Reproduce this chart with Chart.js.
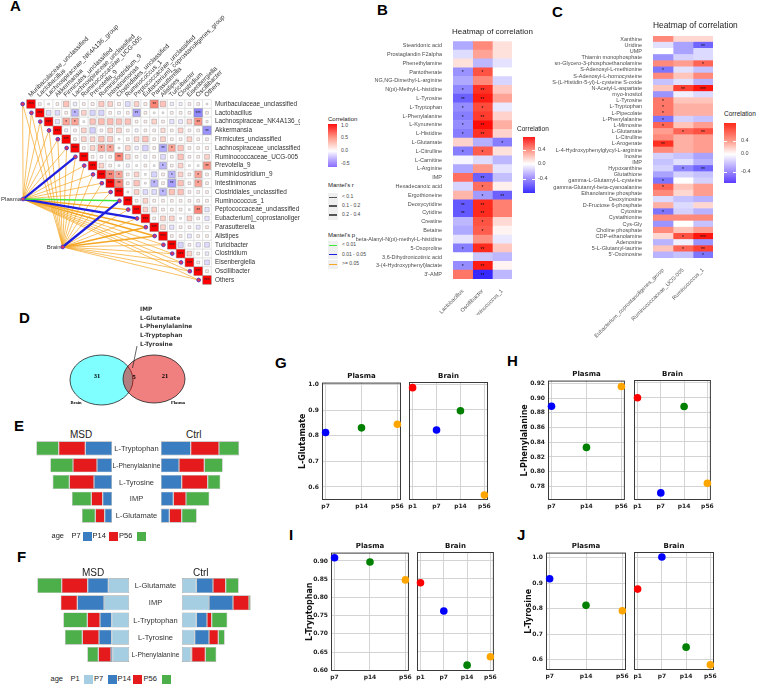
<!DOCTYPE html>
<html>
<head>
<meta charset="utf-8">
<script src="https://cdn.jsdelivr.net/npm/chart.js@4.4.1/dist/chart.umd.min.js"></script>
<style>
  body { margin: 0; background: #fff; }
  #fig { position: relative; width: 760px; height: 684px; overflow: hidden; font-family: "Liberation Sans", Arial, sans-serif; color: #222; }
  #fig canvas { position: absolute; }
  .t { position: absolute; white-space: nowrap; line-height: 1; }
  .bx { position: absolute; }
</style>
</head>
<body>
<div id="fig"></div>
<script>
// ---------------- data ----------------
// A: taxa and correlation (upper triangle, row i holds columns i+1..20)
const taxa = ['Muribaculaceae_unclassified', 'Lactobacillus', 'Lachnospiraceae_NK4A136_group', 'Akkermansia',
  'Firmicutes_unclassified', 'Lachnospiraceae_unclassified', 'Ruminococcaceae_UCG-005', 'Prevotella_9',
  'Ruminiclostridium_9', 'Intestinimonas', 'Clostridiales_unclassified', 'Ruminococcus_1',
  'Peptococcaceae_unclassified', 'Eubacterium]_coprostanoligenes_group', 'Parasutterella', 'Alistipes',
  'Turicibacter', 'Clostridium', 'Eisenbergiella', 'Oscillibacter', 'Others'];
const corrUpper = [
  [0.05, 0.02, 0.05, 0.2, -0.08, 0.05, 0.06, 0.18, 0.15, 0.06, -0.15, 0.15, 0.06, 0.4, 0.2, -0.07, -0.06, 0.05, 0.05, 0.02],
  [-0.15, -0.15, 0.05, -0.3, 0.15, -0.18, -0.18, 0.05, -0.05, 0.05, -0.35, 0.05, 0.02, 0.02, 0.05, 0.05, 0.05, -0.5, 0.05],
  [-0.12, 0.3, 0.3, 0.02, 0.2, 0.22, 0.22, 0.2, 0.2, 0.05, 0.05, 0.15, 0.05, -0.12, -0.1, 0.15, 0.35, 0.03],
  [-0.06, 0.05, 0.15, -0.2, 0.05, 0.15, 0.15, 0.05, -0.06, 0.05, 0.05, 0.12, 0.05, 0.15, 0.05, 0.05, -0.45],
  [0.05, 0.15, 0.15, 0.2, 0.18, 0.02, 0.05, 0.15, 0.2, 0.05, 0.15, 0.05, 0.05, 0.15, 0.05, 0.05],
  [0.05, 0.15, 0.3, 0.3, 0.02, 0.15, -0.08, -0.2, 0.05, -0.35, 0.3, 0.2, 0.05, 0.05, 0.06],
  [0.05, 0.05, 0.05, 0.4, 0.15, 0.05, -0.06, 0.05, -0.15, 0.05, 0.2, 0.05, 0.05, 0.15],
  [0.15, 0.05, 0.02, -0.06, 0.02, 0.05, 0.02, -0.3, 0.05, 0.15, 0.02, 0.02, 0.35],
  [0.4, 0.3, 0.05, 0.15, 0.02, -0.18, 0.05, -0.3, 0.15, 0.05, 0.3, 0.05],
  [0.4, 0.05, 0.2, 0.02, -0.3, 0.05, -0.4, 0.2, 0.05, 0.3, 0.05],
  [0.02, 0.15, -0.15, -0.15, -0.3, 0.2, 0.2, 0.05, 0.05, 0.05],
  [0.05, 0.15, 0.05, 0.05, 0.05, 0.05, 0.05, 0.05, 0.05],
  [0.15, 0.15, 0.05, 0.05, 0.05, 0.02, 0.4, -0.12],
  [0.05, 0.15, 0.15, 0.02, 0.15, 0.05, -0.12],
  [0.15, -0.12, 0.05, 0.05, -0.1, 0.05],
  [0.05, 0.05, -0.1, 0.05, 0.05],
  [-0.18, 0.05, -0.12, -0.15],
  [0.15, 0.05, -0.08],
  [0.05, -0.15],
  [0.05],
  []
];
// Mantel tests (per taxon)
const plasmaMantelR = [0.06, 0.05, 0.07, 0.05, 0.06, 0.08, 0.25, 0.06, 0.07, 0.06, 0.08, 0.15, 0.14, 0.25, 0.13, 0.12, 0.08, 0.09, 0.07, 0.08, 0.06];
const plasmaMantelP = [0.4, 0.5, 0.3, 0.6, 0.4, 0.3, 0.03, 0.3, 0.2, 0.4, 0.2, 0.008, 0.08, 0.02, 0.1, 0.12, 0.3, 0.2, 0.3, 0.2, 0.4];
const brainMantelR = [0.05, 0.06, 0.05, 0.06, 0.05, 0.07, 0.06, 0.05, 0.07, 0.06, 0.08, 0.22, 0.07, 0.09, 0.12, 0.11, 0.08, 0.06, 0.09, 0.07, 0.06];
const brainMantelP = [0.5, 0.4, 0.5, 0.4, 0.5, 0.3, 0.4, 0.5, 0.3, 0.4, 0.3, 0.04, 0.3, 0.2, 0.1, 0.12, 0.3, 0.4, 0.2, 0.3, 0.4];

// B: plasma heatmap
const bMetab = ['Stearidonic acid', 'Prostaglandin F2alpha', 'Phenethylamine', 'Pantothenate', 'NG,NG-Dimethyl-L-arginine',
  'N(pi)-Methyl-L-histidine', 'L-Tyrosine', 'L-Tryptophan', 'L-Phenylalanine', 'L-Kynurenine', 'L-Histidine',
  'L-Glutamate', 'L-Citrulline', 'L-Carnitine', 'L-Arginine', 'IMP', 'Hexadecanoic acid', 'Ergothioneine',
  'Deoxycytidine', 'Cytidine', 'Creatine', 'Betaine', 'beta-Alanyl-N(pi)-methyl-L-histidine', '5-Oxoproline',
  '3,6-Dihydronicotinic acid', '3-(4-Hydroxyphenyl)lactate', "3'-AMP"];
const bTaxa = ['Lactobacillus', 'Oscillibacter', 'Ruminococcus_1'];
const bLacto = [-0.30, -0.12, 0.08, -0.38, -0.30, -0.42, -0.55, -0.40, -0.45, -0.40, -0.45, 0.12, -0.45, -0.03, -0.30, 0.40, -0.15, 0.20, -0.58, -0.58, -0.25, -0.30, -0.10, -0.45, 0.00, -0.40, 0.38];
const bOsc = [0.32, 0.25, -0.25, 0.48, 0.32, 0.58, 0.65, 0.50, 0.55, 0.70, 0.58, -0.28, 0.45, -0.12, 0.28, -0.55, 0.40, -0.35, 0.60, 0.60, 0.48, 0.45, 0.30, 0.60, -0.20, 0.65, -0.80];
const bRum = [0.08, 0.08, -0.10, 0.00, -0.15, 0.15, 0.25, -0.08, 0.12, 0.22, 0.12, -0.45, 0.08, -0.25, -0.10, -0.22, 0.04, -0.55, 0.35, 0.35, 0.10, 0.03, -0.08, 0.15, -0.25, 0.03, -0.25];
const bLactoSig = ['', '', '', '*', '', '*', '**', '*', '*', '*', '*', '', '*', '', '', '', '', '', '**', '**', '', '', '', '*', '', '*', ''];
const bOscSig = ['', '', '', '*', '', '**', '**', '*', '**', '**', '**', '', '*', '', '', '**', '*', '*', '**', '**', '*', '*', '', '**', '', '**', '**'];
const bRumSig = ['', '', '', '', '', '', '', '', '', '', '', '*', '', '', '', '', '', '**', '', '', '', '', '', '', '', '', ''];

// C: brain heatmap
const cMetab = ['Xanthine', 'Uridine', 'UMP', 'Thiamin monophosphate', 'sn-Glycero-3-phosphoethanolamine',
  'S-Adenosyl-L-methionine', 'S-Adenosyl-L-homocysteine', 'S-(L-Histidin-5-yl)-L-cysteine S-oxide',
  'N-Acetyl-L-aspartate', 'myo-Inositol', 'L-Tyrosine', 'L-Tryptophan', 'L-Pipecolate', 'L-Phenylalanine',
  'L-Mimosine', 'L-Glutamate', 'L-Citrulline', 'L-Arogenate', 'L-4-Hydroxyphenylglycyl-L-arginine', 'Inosine',
  'IMP', 'Hypoxanthine', 'Glutathione', 'gamma-L-Glutamyl-L-cysteine', 'gamma-Glutamyl-beta-cyanoalanine',
  'Ethanolamine phosphate', 'Deoxyinosine', 'D-Fructose 6-phosphate', 'Cytosine', 'Cystathionine', 'Cys-Gly',
  'Choline phosphate', 'CDP-ethanolamine', 'Adenosine', '5-L-Glutamyl-taurine', "5'-Oxoinosine"];
const cTaxa = ['Eubacterium_coprostanoligenes_group', 'Ruminococcaceae_UCG-005', 'Ruminococcus_1'];
const cEub = [0.30, -0.10, 0.00, -0.35, 0.30, -0.45, 0.30, -0.20, 0.15, -0.35, 0.35, 0.35, 0.35, -0.45, 0.40, 0.25, 0.30, 0.55, 0.30, -0.15, -0.20, -0.15, -0.30, -0.45, 0.40, 0.30, -0.12, 0.20, -0.45, 0.30, -0.35, 0.30, 0.10, -0.25, 0.15, -0.25];
const cUcg = [0.10, -0.30, -0.30, -0.15, 0.25, -0.10, 0.15, -0.10, 0.50, -0.05, 0.15, 0.20, 0.20, -0.15, 0.15, 0.40, 0.20, 0.20, 0.20, -0.20, -0.10, -0.40, -0.15, 0.00, 0.15, 0.10, -0.20, -0.12, -0.15, 0.30, 0.00, 0.15, 0.45, -0.05, 0.40, -0.20];
const cRum = [0.10, -0.50, -0.12, -0.12, 0.40, -0.20, 0.30, -0.25, 0.62, -0.12, 0.15, 0.20, 0.20, -0.20, 0.25, 0.45, 0.25, 0.25, 0.25, -0.30, -0.25, -0.50, -0.20, -0.15, 0.25, 0.25, -0.25, 0.10, -0.25, 0.30, -0.20, 0.25, 0.62, -0.35, 0.50, -0.45];
const cEubSig = ['', '', '', '', '', '*', '', '', '', '', '*', '*', '*', '*', '*', '', '', '**', '', '', '', '', '', '*', '*', '', '', '', '*', '', '', '', '', '', '', ''];
const cUcgSig = ['', '', '', '', '', '', '', '', '**', '', '', '', '', '', '', '*', '', '', '', '', '', '*', '', '', '', '', '', '', '', '', '', '', '*', '', '*', ''];
const cRumSig = ['', '**', '', '', '*', '', '', '', '***', '', '', '', '', '', '', '**', '', '', '', '', '', '**', '', '', '', '', '', '', '', '', '', '', '***', '', '**', '*'];

// D: Venn
const vennSets = ['Brain', 'Plasma'];
const vennOnly = [31, 21];
const vennShared = 5;
const vennSharedNames = ['IMP', 'L-Glutamate', 'L-Phenylalanine', 'L-Tryptophan', 'L-Tyrosine'];

// E: MSD vs Ctrl
const eMetab = ['L-Tryptophan', 'L-Phenylalanine', 'L-Tyrosine', 'IMP', 'L-Glutamate'];
const eAges = ['P7', 'P14', 'P56'];
const eMsdP7 = [0.80, 0.45, 0.54, 0.28, 0.22];
const eMsdP14 = [0.80, 0.72, 0.74, 0.34, 0.28];
const eMsdP56 = [0.67, 0.68, 0.50, 0.58, 0.40];
const eCtrlP7 = [0.89, 0.54, 0.62, 0.37, 0.25];
const eCtrlP14 = [0.85, 0.76, 0.78, 0.38, 0.37];
const eCtrlP56 = [0.60, 0.55, 0.38, 0.70, 0.45];

// F
const fMetab = ['L-Glutamate', 'IMP', 'L-Tryptophan', 'L-Tyrosine', 'L-Phenylalanine'];
const fAges = ['P1', 'P7', 'P14', 'P56'];
const fMsdP1 = [0.62, 0.75, 0.52, 0.52, 0.49];
const fMsdP7 = [0.62, 0.80, 0.35, 0.38, 0.05];
const fMsdP14 = [0.78, 0.50, 0.38, 0.50, 0.38];
const fMsdP56 = [0.73, 0.00, 0.72, 0.52, 0.33];
const fCtrlP1 = [0.43, 0.81, 0.43, 0.38, 0.26];
const fCtrlP7 = [0.50, 0.72, 0.32, 0.43, 0.03];
const fCtrlP14 = [0.38, 0.48, 0.14, 0.28, 0.41];
const fCtrlP56 = [0.39, 0.05, 0.47, 0.19, 0.33];

// G-J
const plasmaAges = ['p7', 'p14', 'p56'];
const brainAges = ['p1', 'p7', 'p14', 'p56'];
const gPlasma = [0.813, 0.831, 0.845], gBrain = [0.986, 0.821, 0.896, 0.568];
const hPlasma = [0.889, 0.833, 0.916], hBrain = [0.900, 0.771, 0.888, 0.784];
const iPlasma = [0.909, 0.897, 0.848], iBrain = [0.839, 0.762, 0.614, 0.637];
const jPlasma = [0.917, 0.813, 0.792], jBrain = [0.875, 1.000, 0.649, 0.580];
const gTicks = [0.6, 0.7, 0.8, 0.9, 1.0];
const hTicks = [0.78, 0.80, 0.82, 0.84, 0.86, 0.88, 0.90, 0.92];
const iTicks = [0.60, 0.65, 0.70, 0.75, 0.80, 0.85, 0.90];
const jTicks = [0.6, 0.7, 0.8, 0.9, 1.0];

// ---------------- helpers ----------------
Chart.defaults.animation = false;
Chart.defaults.responsive = false;
Chart.defaults.maintainAspectRatio = false;
Chart.defaults.layout.autoPadding = false;
Chart.defaults.font.family = '"Liberation Sans", Arial, sans-serif';
Chart.defaults.plugins.legend.display = false;
Chart.defaults.plugins.tooltip.enabled = false;

const fig = document.getElementById('fig');
const SANS = '"Liberation Sans", Arial, sans-serif';
const DJV = '"DejaVu Sans", sans-serif';

function addCanvas(x, y, w, h) {
  const c = document.createElement('canvas');
  c.width = w; c.height = h;
  c.style.left = x + 'px'; c.style.top = y + 'px';
  c.style.width = w + 'px'; c.style.height = h + 'px';
  fig.appendChild(c);
  return c;
}
// cy = vertical centre of the glyphs
function addText(txt, x, cy, size, css) {
  const d = document.createElement('div');
  d.className = 't';
  d.textContent = txt;
  d.style.left = x + 'px';
  d.style.top = (cy - size * 0.55) + 'px';
  d.style.fontSize = size + 'px';
  if (css) d.style.cssText += css;
  fig.appendChild(d);
  return d;
}
function addBox(x, y, w, h, css) {
  const d = document.createElement('div');
  d.className = 'bx';
  d.style.left = x + 'px'; d.style.top = y + 'px';
  d.style.width = w + 'px'; d.style.height = h + 'px';
  d.style.cssText += css;
  fig.appendChild(d);
  return d;
}
function corrColor(v, lim) {
  const t = Math.min(1, Math.abs(v) / lim);
  if (v >= 0) return 'rgb(255,' + Math.round(255 * Math.pow(1 - t, 1.1)) + ',' + Math.round(255 * Math.pow(1 - t, 1.3)) + ')';
  return 'rgb(' + Math.round(255 - 200 * t) + ',' + Math.round(255 - 215 * t) + ',255)';
}

// ---------------- panel letters ----------------
[['A', 10, 6], ['B', 377, 10], ['C', 552, 12], ['D', 19, 318], ['E', 14, 426], ['F', 17, 557],
 ['G', 275, 363], ['H', 507, 361], ['I', 289, 535], ['J', 517, 535]].forEach(l =>
  addText(l[0], l[1], l[2], 15, 'font-weight:bold;color:#000;'));

// ---------------- A ----------------
(function () {
  const X0 = 31, Y0 = 104, S = 8.8, W = 300, H = 290;
  const plasmaNode = { x: -0.9, y: 10.8 }, brainNode = { x: 3.6, y: 16.25 };
  const cells = [], bg = [], dots = [];
  taxa.forEach((t, i) => {
    bg.push({ x: i, y: i });
    cells.push({ x: i, y: i, v: 1 });
    corrUpper[i].forEach((v, k) => {
      bg.push({ x: i + 1 + k, y: i });
      cells.push({ x: i + 1 + k, y: i, v: v });
    });
    dots.push({ x: i - 0.95, y: i });
  });
  dots.push(plasmaNode, brainNode);
  const pColor = p => p < 0.01 ? '#3ee83a' : (p < 0.05 ? '#1f1fe0' : '#f5a623');
  const rWidth = r => r < 0.1 ? 0.7 : (r < 0.2 ? 1.4 : 2.3);
  const lines = [];
  taxa.forEach((t, i) => {
    lines.push({ data: [plasmaNode, { x: i - 0.95, y: i }], showLine: true, pointRadius: 0,
      borderColor: pColor(plasmaMantelP[i]), borderWidth: rWidth(plasmaMantelR[i]), order: 3 + (plasmaMantelP[i] < 0.05 ? 0 : 1) });
    lines.push({ data: [brainNode, { x: i - 0.95, y: i }], showLine: true, pointRadius: 0,
      borderColor: pColor(brainMantelP[i]), borderWidth: rWidth(brainMantelR[i]), order: 3 + (brainMantelP[i] < 0.05 ? 0 : 1) });
  });
  const side = v => Math.abs(v) >= 0.99 ? 8.6 : 8.4 * Math.sqrt(Math.min(1, Math.abs(v) * 2.2));
  const stars = v => { const a = Math.abs(v); return a >= 0.5 ? '***' : a >= 0.35 ? '**' : a >= 0.28 ? '*' : ''; };

  const textPlugin = {
    id: 'aText',
    afterDatasetsDraw(chart) {
      const { ctx, scales: { x, y } } = chart;
      ctx.save();
      ctx.fillStyle = '#333';
      ctx.textBaseline = 'middle';
      ctx.font = '6.4px ' + SANS;
      taxa.forEach((t, i) => {
        ctx.textAlign = 'left';
        ctx.fillText(t, x.getPixelForValue(20) + 8, y.getPixelForValue(i));
        ctx.save();
        ctx.translate(x.getPixelForValue(i) - 1.5, y.getPixelForValue(0) - 8);
        ctx.rotate(-Math.PI / 4);
        ctx.fillText(t, 0, 0);
        ctx.restore();
      });
      ctx.font = '6px ' + SANS;
      ctx.textAlign = 'right';
      ctx.fillText('Plasma', x.getPixelForValue(plasmaNode.x) - 2, y.getPixelForValue(plasmaNode.y));
      ctx.fillText('Brain', x.getPixelForValue(brainNode.x) - 2, y.getPixelForValue(brainNode.y));
      ctx.font = '4.5px ' + SANS;
      ctx.textAlign = 'center';
      ctx.fillStyle = '#222';
      cells.forEach(c => {
        const s = stars(c.v);
        if (s) ctx.fillText(s, x.getPixelForValue(c.x), y.getPixelForValue(c.y) + 1);
      });
      ctx.restore();
    }
  };
  new Chart(addCanvas(0, 0, W, H), {
    type: 'scatter',
    data: {
      datasets: [
        { data: dots, pointRadius: 1.9, pointStyle: 'circle', backgroundColor: '#e2335a', borderColor: '#3b3bd0', borderWidth: 0.8, order: 0 },
        { data: cells, pointStyle: 'rect', order: 1,
          pointRadius: c => side(c.raw.v) / 1.414,
          backgroundColor: c => corrColor(c.raw.v, 0.9), borderColor: 'rgba(120,120,120,0.7)', borderWidth: 0.5 },
        { data: bg, pointStyle: 'rect', pointRadius: 6.2, backgroundColor: '#fff', borderColor: '#d6d6d6', borderWidth: 0.6, order: 2 },
        ...lines
      ]
    },
    options: {
      layout: { padding: 0 },
      scales: {
        x: { type: 'linear', display: false, min: -X0 / S, max: (W - X0) / S },
        y: { type: 'linear', display: false, reverse: true, min: -Y0 / S, max: (H - Y0) / S }
      }
    },
    plugins: [textPlugin]
  });

  // legend
  addText('Correlation', 328, 119, 6);
  addBox(328, 124, 9, 43, 'background:linear-gradient(to bottom,#ff1010 0%,#ff9a8a 32%,#fff 63%,#c4b6ff 80%,#8a6cff 100%);');
  [['1.0', 126], ['0.5', 137.5], ['0.0', 151], ['-0.5', 164]].forEach(l => addText(l[0], 341, l[1], 5, 'color:#444;'));
  addText("Mantel's r", 328, 185, 6);
  [['< 0.1', 197, 0.7], ['0.1 - 0.2', 206, 1.4], ['0.2 - 0.4', 215, 2.3]].forEach(l => {
    addBox(328, l[1] - 4.5, 10, 9, 'background:#efefef;');
    addBox(329, l[1] - l[2] / 2, 8, l[2], 'background:#555;');
    addText(l[0], 342, l[1], 5, 'color:#444;');
  });
  addText("Mantel's p", 328, 235, 6);
  [['< 0.01', 245, '#3ee83a'], ['0.01 - 0.05', 254.5, '#1f1fe0'], ['>= 0.05', 264, '#f5a623']].forEach(l => {
    addBox(328, l[1] - 4.5, 10, 9, 'background:#efefef;');
    addBox(329, l[1] - 0.5, 8, 1, 'background:' + l[2] + ';');
    addText(l[0], 342, l[1], 5, 'color:#444;');
  });
})();

// ---------------- B & C heatmaps ----------------
function heatmap(o) {
  const starPlugin = {
    id: 'stars',
    afterDatasetsDraw(chart) {
      const ctx = chart.ctx;
      ctx.save();
      ctx.font = '5px ' + SANS;
      ctx.fillStyle = '#111';
      ctx.textAlign = 'center';
      ctx.textBaseline = 'middle';
      chart.data.datasets.forEach((ds, d) => {
        chart.getDatasetMeta(d).data.forEach((el, i) => {
          const s = o.sig[d][i];
          if (s) ctx.fillText(s, (el.x + el.base) / 2, el.y + 1);
        });
      });
      ctx.restore();
    }
  };
  new Chart(addCanvas(o.left, o.top, o.w, o.h), {
    type: 'bar',
    data: {
      labels: o.rows,
      datasets: o.vals.map((vals, d) => ({
        label: o.cols[d],
        data: o.rows.map(() => 1),
        backgroundColor: c => corrColor(vals[c.dataIndex], o.lim),
        borderWidth: 0,
        barPercentage: 1,
        categoryPercentage: 1
      }))
    },
    options: {
      indexAxis: 'y',
      layout: { padding: { top: o.padTop, right: o.padRight, left: 0, bottom: 0 } },
      scales: {
        x: {
          type: 'linear', stacked: true, min: 0, max: 3,
          grid: { display: false }, border: { display: false },
          afterBuildTicks: s => { s.ticks = [0.5, 1.5, 2.5].map(v => ({ value: v })); },
          afterFit: s => { s.height = o.xh; },
          ticks: { minRotation: 45, maxRotation: 45, autoSkip: false, padding: 1, color: '#555', font: { size: 5.5 },
            callback: (v, i) => o.cols[i] }
        },
        y: {
          stacked: true,
          grid: { display: false }, border: { display: false },
          afterFit: s => { s.width = o.yw; },
          ticks: { autoSkip: false, padding: 3, color: '#4d4d4d', font: { size: 5.5 } }
        }
      }
    },
    plugins: [starPlugin]
  });
}
heatmap({ left: 300, top: 35, w: 230, h: 280, yw: 153, xh: 36, padTop: 6, padRight: 18,
  rows: bMetab, cols: bTaxa, vals: [bLacto, bOsc, bRum], sig: [bLactoSig, bOscSig, bRumSig], lim: 0.75 });
heatmap({ left: 520, top: 25, w: 200, h: 318, yw: 133, xh: 85, padTop: 11, padRight: 7,
  rows: cMetab, cols: cTaxa, vals: [cEub, cUcg, cRum], sig: [cEubSig, cUcgSig, cRumSig], lim: 0.7 });

addText('Heatmap of correlation', 452, 32, 8);
addText('Heatmap of correlation', 653, 26, 8.4);
// B legend
addText('Correlation', 517, 130, 6.5);
addBox(523, 137, 12, 56, 'background:linear-gradient(to bottom,#ff1a1a 0%,#ff9b8c 25%,#fff 48%,#a896ff 72%,#3a2eff 100%);');
[['0.4', 150], ['0.0', 164], ['-0.4', 179]].forEach(l => {
  addBox(523, l[1] - 0.5, 3, 1, 'background:#fff;');
  addBox(532, l[1] - 0.5, 3, 1, 'background:#fff;');
  addText(l[0], 538, l[1], 5.5, 'color:#444;');
});
// C legend
addText('Correlation', 724, 115, 6.5);
addBox(724, 123, 12, 60, 'background:linear-gradient(to bottom,#ff2a1a 0%,#ff9b8c 30%,#fff 52%,#a896ff 78%,#5a3cff 100%);');
[['0.4', 141], ['0.0', 154], ['-0.4', 172]].forEach(l => {
  addBox(724, l[1] - 0.5, 3, 1, 'background:#fff;');
  addBox(733, l[1] - 0.5, 3, 1, 'background:#fff;');
  addText(l[0], 741, l[1], 5.5, 'color:#444;');
});

// ---------------- D Venn ----------------
(function () {
  function ellipseImg(rx, ry, fill) {
    const c = document.createElement('canvas');
    c.width = Math.ceil(2 * rx + 2); c.height = Math.ceil(2 * ry + 2);
    const g = c.getContext('2d');
    g.beginPath();
    g.ellipse(c.width / 2, c.height / 2, rx, ry, 0, 0, 2 * Math.PI);
    g.fillStyle = fill; g.fill();
    g.lineWidth = 0.8; g.strokeStyle = '#222'; g.stroke();
    return c;
  }
  const pos = [{ x: 101.5, y: 380 }, { x: 154, y: 379 }];
  const vennText = {
    id: 'vennText',
    afterDatasetsDraw(chart) {
      const { ctx, scales: { x, y } } = chart;
      ctx.save();
      ctx.fillStyle = '#000';
      ctx.textAlign = 'center';
      ctx.textBaseline = 'middle';
      ctx.font = 'bold 6.5px "Liberation Serif", serif';
      ctx.fillText(String(vennOnly[0]), x.getPixelForValue(97), y.getPixelForValue(376));
      ctx.fillText(String(vennShared), x.getPixelForValue(134), y.getPixelForValue(377));
      ctx.fillText(String(vennOnly[1]), x.getPixelForValue(165), y.getPixelForValue(376));
      ctx.font = 'bold 4.5px "Liberation Serif", serif';
      ctx.fillText(vennSets[0], x.getPixelForValue(76), y.getPixelForValue(403));
      ctx.fillText(vennSets[1], x.getPixelForValue(178), y.getPixelForValue(403));
      ctx.strokeStyle = '#222';
      ctx.lineWidth = 0.7;
      ctx.beginPath();
      ctx.moveTo(x.getPixelForValue(132.5), y.getPixelForValue(368));
      ctx.lineTo(x.getPixelForValue(137), y.getPixelForValue(346));
      ctx.stroke();
      ctx.textAlign = 'left';
      ctx.fillStyle = '#333';
      ctx.font = 'bold 5.8px ' + DJV;
      vennSharedNames.forEach((n, i) => ctx.fillText(n, x.getPixelForValue(140), y.getPixelForValue(309.3 + i * 8.7)));
      ctx.restore();
    }
  };
  new Chart(addCanvas(60, 300, 160, 115), {
    type: 'scatter',
    data: {
      datasets: [
        { data: [pos[0]], pointStyle: ellipseImg(31.5, 25, 'rgba(0,255,255,0.5)'), pointRadius: 30, order: 1 },
        { data: [pos[1]], pointStyle: ellipseImg(31, 24, 'rgba(225,0,0,0.5)'), pointRadius: 30, order: 0 }
      ]
    },
    options: {
      layout: { padding: 0, autoPadding: false },
      scales: {
        x: { type: 'linear', display: false, min: 60, max: 220 },
        y: { type: 'linear', display: false, min: 300, max: 415, reverse: true }
      }
    },
    plugins: [vennText]
  });
})();

// ---------------- E & F pyramids ----------------
const ageCol = { P1: '#a6cee3', P7: '#3a7dc0', P14: '#e41a1c', P56: '#4daf4a' };
const PXU = 33.33; // pixels per unit
function pyramidSide(o) {
  const labelled = !!o.yw;
  const labelPlugin = {
    id: 'midLabels',
    afterDraw(chart) {
      if (!labelled) return;
      const { ctx, scales: { y } } = chart;
      ctx.save();
      ctx.fillStyle = '#333';
      ctx.textAlign = 'center';
      ctx.textBaseline = 'middle';
      o.rows.forEach((r, i) => {
        ctx.font = (r.length > 13 ? 6.7 : 7.5) + 'px ' + SANS;
        ctx.fillText(r, o.yw / 2, y.getPixelForValue(i) + 0.5);
      });
      ctx.restore();
    }
  };
  new Chart(addCanvas(o.left, o.top, o.w, o.h), {
    type: 'bar',
    data: {
      labels: o.rows,
      datasets: o.series.map((s, k) => ({
        label: o.ages[k], data: s, backgroundColor: ageCol[o.ages[k]],
        borderColor: 'rgba(140,140,140,0.8)', borderWidth: 0.6, borderSkipped: false,
        barPercentage: o.bp, categoryPercentage: 1
      }))
    },
    options: {
      indexAxis: 'y',
      layout: { padding: { left: o.yw || 0, right: 0, top: 0, bottom: 0 } },
      scales: {
        x: { type: 'linear', stacked: true, display: false, min: 0, max: (o.w - (o.yw || 0)) / PXU, reverse: !labelled },
        y: { stacked: true, display: false }
      }
    },
    plugins: [labelPlugin]
  });
}
// E
pyramidSide({ left: 30, top: 440, w: 82, h: 84, rows: eMetab, ages: eAges, series: [eMsdP7, eMsdP14, eMsdP56], bp: 0.84 });
pyramidSide({ left: 112, top: 440, w: 138, h: 84, yw: 49, rows: eMetab, ages: eAges, series: [eCtrlP7, eCtrlP14, eCtrlP56], bp: 0.84 });
addText('MSD', 70, 435, 10);
addText('Ctrl', 186, 435, 10);
// F
pyramidSide({ left: 30, top: 577, w: 99, h: 86, rows: fMetab, ages: fAges, series: [fMsdP1, fMsdP7, fMsdP14, fMsdP56], bp: 0.87 });
pyramidSide({ left: 129, top: 577, w: 131, h: 86, yw: 53, rows: fMetab, ages: fAges, series: [fCtrlP1, fCtrlP7, fCtrlP14, fCtrlP56], bp: 0.87 });
addText('MSD', 82, 573.5, 10);
addText('Ctrl', 193, 573.5, 10);
// legends
function ageLegend(cy, items) {
  addText('age', items.ageX, cy, 7.5);
  items.keys.forEach(k => {
    addText(k[0], k[1], cy, 7.5);
    addBox(k[2], cy - 4.5, 9, 9, 'background:' + ageCol[k[0]] + ';');
  });
}
ageLegend(536, { ageX: 51.5, keys: [['P7', 71.5, 82.5], ['P14', 92.5, 109], ['P56', 119, 136.5]] });
ageLegend(679, { ageX: 50.5, keys: [['P1', 70.5, 83.5], ['P7', 94, 107.5], ['P14', 117.5, 133], ['P56', 143.5, 161.5]] });

// ---------------- G-J facets ----------------
const ptCol = { p1: '#ff0000', p7: '#0000ff', p14: '#008000', p56: '#ffa500' };
const boxPlugin = {
  id: 'box',
  beforeDatasetsDraw(chart) {
    const a = chart.chartArea, ctx = chart.ctx;
    ctx.save();
    ctx.strokeStyle = '#3a3a3a';
    ctx.lineWidth = 1;
    ctx.strokeRect(a.left + 0.5, a.top + 0.5, a.width - 1, a.height - 1);
    ctx.restore();
  }
};
function facet(p) {
  const first = !!p.ytitle;
  const padT = 6, padR = 6, xh = 13;
  const L = Math.round(p.l), R = Math.round(p.r), T = Math.round(p.t), B = Math.round(p.b);
  const left = first ? Math.round(p.titleX - 4.8) : L - 6;
  const padL = first ? 0 : 6;
  const yw = first ? L - left : 0;
  const n = p.cats.length;
  const m = (n - 1) * 0.05;
  new Chart(addCanvas(left, T - padT, R + padR - left, padT + (B - T) + xh), {
    type: 'scatter',
    data: {
      datasets: [{
        data: p.vals.map((v, i) => ({ x: i, y: v })),
        pointRadius: 3.8, borderWidth: 0, clip: false,
        backgroundColor: c => ptCol[p.cats[c.dataIndex]]
      }]
    },
    options: {
      layout: { padding: { left: padL, right: padR, top: padT, bottom: 0 } },
      scales: {
        x: {
          type: 'linear', min: -m, max: n - 1 + m,
          afterBuildTicks: s => { s.ticks = p.cats.map((c, i) => ({ value: i })); },
          afterFit: s => { s.height = xh; },
          grid: { color: '#cfcfcf', lineWidth: 0.9, drawTicks: false },
          border: { display: false },
          ticks: { padding: 3, color: '#222', font: { family: DJV, size: 6, weight: 'bold' }, callback: (v, i) => p.cats[i], maxRotation: 0 }
        },
        y: {
          type: 'linear', min: p.ymin, max: p.ymax,
          afterBuildTicks: s => { s.ticks = p.yticks.map(v => ({ value: v })); },
          afterFit: s => { s.width = yw; },
          grid: { color: '#cfcfcf', lineWidth: 0.9, drawTicks: false },
          border: { display: false },
          title: { display: first, text: p.ytitle || '', padding: 0, color: '#111', font: { family: DJV, size: 8, weight: 'bold' } },
          ticks: { display: first, padding: 3, color: '#222', font: { family: DJV, size: 6, weight: 'bold' }, callback: v => v.toFixed(p.dec) }
        }
      }
    },
    plugins: [boxPlugin]
  });
  const t = addText(p.title, (p.l + p.r) / 2, p.t - 5, 7, 'font-weight:bold;font-family:' + DJV + ';color:#111;');
  t.style.transform = 'translateX(-50%)';
}
function facetPair(o) {
  facet({ l: o.pl, r: o.pr, t: o.t, b: o.b, cats: plasmaAges, vals: o.plasma, ymin: o.ymin, ymax: o.ymax,
    yticks: o.ticks, dec: o.dec, ytitle: o.ytitle, titleX: o.titleX, title: 'Plasma' });
  facet({ l: o.bl, r: o.br, t: o.t, b: o.b, cats: brainAges, vals: o.brain, ymin: o.ymin, ymax: o.ymax,
    yticks: o.ticks, dec: o.dec, title: 'Brain' });
}
facetPair({ pl: 322, pr: 401, bl: 409, br: 488, t: 382, b: 500, ymin: 0.549, ymax: 1.008, ticks: gTicks, dec: 1,
  ytitle: 'L-Glutamate', titleX: 303, plasma: gPlasma, brain: gBrain });
facetPair({ pl: 548, pr: 625, bl: 634, br: 711, t: 380, b: 500, ymin: 0.7614, ymax: 0.924, ticks: hTicks, dec: 2,
  ytitle: 'L-Phenylalanine', titleX: 525, plasma: hPlasma, brain: hBrain });
facetPair({ pl: 331, pr: 409, bl: 417, br: 494, t: 552, b: 671, ymin: 0.598, ymax: 0.923, ticks: iTicks, dec: 2,
  ytitle: 'L-Tryptophan', titleX: 310, plasma: iPlasma, brain: iBrain });
facetPair({ pl: 546, pr: 626, bl: 634, br: 714, t: 552, b: 670, ymin: 0.56, ymax: 1.0195, ticks: jTicks, dec: 1,
  ytitle: 'L-Tyrosine', titleX: 529, plasma: jPlasma, brain: jBrain });
</script>
</body>
</html>
